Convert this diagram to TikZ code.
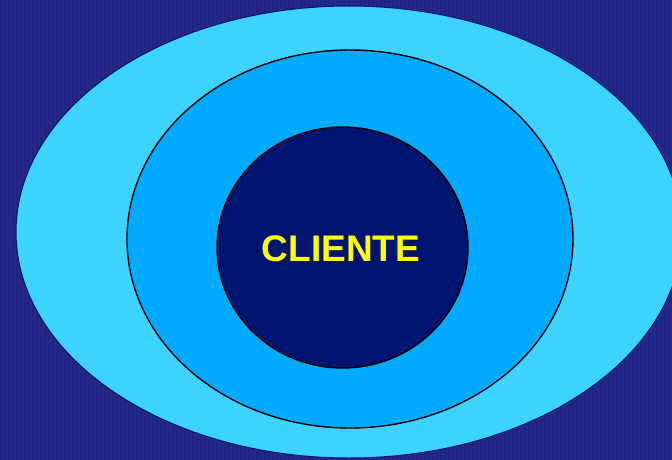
\documentclass[tikz,border=0pt]{standalone}
\usepackage{fontspec}
\setmainfont{Liberation Sans}
\usetikzlibrary{shapes.geometric}
\definecolor{bg}{RGB}{36,40,138}
\definecolor{outerc}{RGB}{60,212,255}
\definecolor{midc}{RGB}{0,170,255}
\definecolor{innerc}{RGB}{0,20,112}
\definecolor{txt}{RGB}{255,255,0}
\begin{document}
\begin{tikzpicture}[x=1pt,y=-1pt,
  ring/.style={draw=black,line width=1.4pt}]
\useasboundingbox (0,0) rectangle (672,460);
\fill[bg] (0,0) rectangle (672,460);
\begin{scope}
\clip (0,0) rectangle (672,460);
\foreach \i in {0,4,...,672} {\fill[bg!88!black,opacity=0.5] (\i,0) rectangle (\i+1.5,460);}
\fill[outerc,draw=innerc,line width=1pt] (349,232) ellipse [x radius=333,y radius=226];
\end{scope}
\fill[midc,ring] (350,239) ellipse [x radius=223,y radius=189];
\node[ellipse,fill=innerc,ring,minimum width=251pt,minimum height=241pt,inner sep=0pt] (c) at (342.5,247.5) {};
\node[text=txt,font=\bfseries\fontsize{37}{37}\selectfont,inner sep=0pt] (t) at (341,249) {CLIENTE};
\end{tikzpicture}
\end{document}
